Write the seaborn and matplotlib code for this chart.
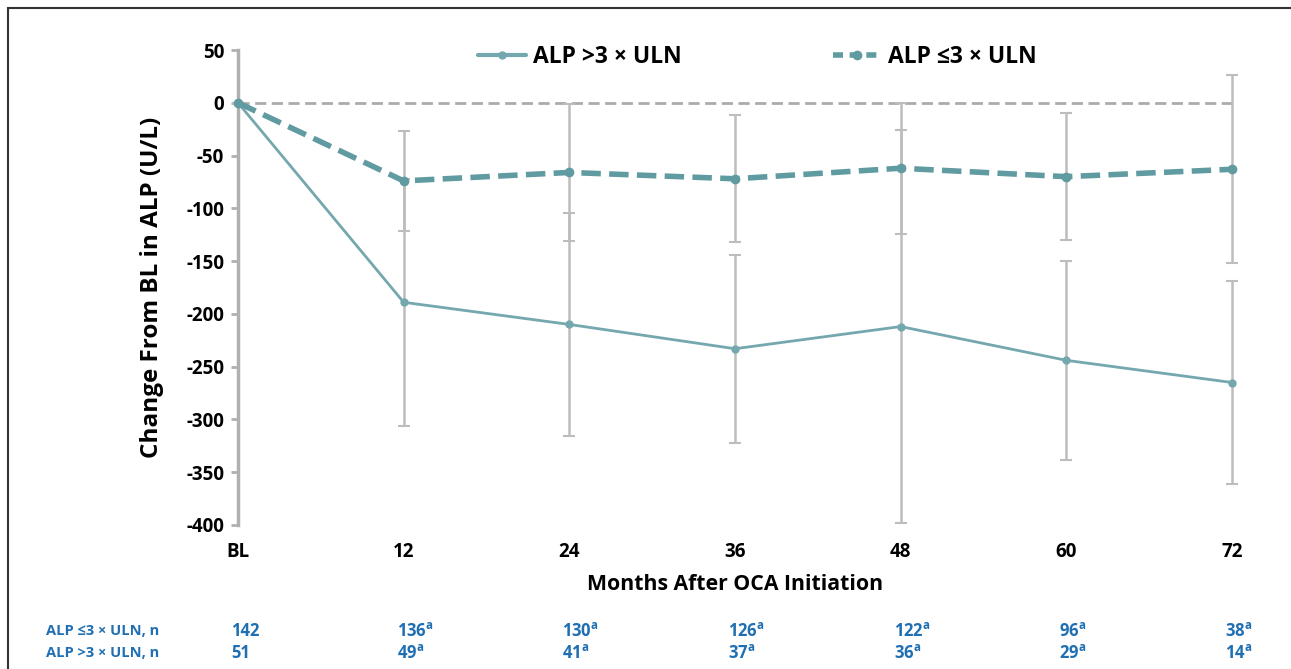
import matplotlib
matplotlib.use("Agg")
import matplotlib.pyplot as plt
import matplotlib.transforms as mtrans
import seaborn as sns
import pandas as pd
from matplotlib.lines import Line2D
from matplotlib.patches import Rectangle

# ---- data ----
months = [0, 12, 24, 36, 48, 60, 72]
month_labels = ["BL", "12", "24", "36", "48", "60", "72"]
high_mean = [0, -189, -210, -233, -212, -244, -265]   # ALP >3 x ULN
high_err = [0, 117, 106, 89, 186, 94, 96]
low_mean = [0, -74, -66, -72, -62, -70, -63]          # ALP <=3 x ULN
low_err = [0, 47, 65, 60, 62, 60, 89]
n_low = ["142", "136", "130", "126", "122", "96", "38"]
n_high = ["51", "49", "41", "37", "36", "29", "14"]
n_sup = ["", "a", "a", "a", "a", "a", "a"]
yticks = list(range(-400, 51, 50))

sns.set_theme(style="white")
plt.rcParams['font.family'] = ['Open Sans', 'DejaVu Sans']
plt.rcParams['font.weight'] = 'bold'
plt.rcParams['text.color'] = 'black'
plt.rcParams['axes.labelcolor'] = 'black'
plt.rcParams['mathtext.fontset'] = 'custom'
plt.rcParams['mathtext.bf'] = 'Open Sans:bold'
plt.rcParams['mathtext.rm'] = 'Open Sans:bold'

df = pd.DataFrame({
    "month": months * 2,
    "value": high_mean + low_mean,
    "group": ["high"] * 7 + ["low"] * 7,
})

fig = plt.figure(figsize=(12.91, 6.69), dpi=100)
ax = fig.add_axes([238/1291, 1-525/669, (1232-238)/1291, (525-50)/669])

line_col = "#74a7ae"
dash_col = "#609ba2"
err_col = "#bdbdbd"

# zero reference line
ax.axhline(0, color="#ababab", lw=2, ls=(0, (4, 2)), zorder=1)

# error bars
for mean, err in ((high_mean, high_err), (low_mean, low_err)):
    eb = ax.errorbar(months, mean, yerr=err, fmt="none", ecolor=err_col,
                     elinewidth=1.8, capsize=4, capthick=1.5, zorder=2)
    for art in eb.lines[1] + eb.lines[2]:
        art.set_clip_on(False)

sns.lineplot(data=df[df.group == "high"], x="month", y="value", ax=ax,
             color=line_col, lw=2, marker="o", markersize=6,
             markeredgewidth=0, zorder=3, legend=False, clip_on=False)
sns.lineplot(data=df[df.group == "low"], x="month", y="value", ax=ax,
             color=dash_col, lw=4, ls=(0, (3.5, 1.5)), marker="o", markersize=7,
             markeredgewidth=0, zorder=3, legend=False, clip_on=False)

ax.set_xlim(0, 72)
ax.set_ylim(-400, 50)
ax.set_xticks(months)
ax.set_xticklabels(month_labels)
ax.set_yticks(yticks)
ax.set_yticklabels([str(v) for v in yticks])
for s in ["top", "right", "bottom"]:
    ax.spines[s].set_visible(False)
ax.spines["left"].set_color("#b0b0b0")
ax.spines["left"].set_linewidth(2.5)
ax.tick_params(axis="y", length=5, width=2, color="#b0b0b0", pad=5,
               labelsize=13.5, labelcolor="black", left=True)
ax.tick_params(axis="x", length=0, pad=12, labelsize=13.5, labelcolor="black")
for lab in ax.get_xticklabels() + ax.get_yticklabels():
    lab.set_fontweight("bold")

ax.set_xlabel("Months After OCA Initiation", fontsize=15.3, fontweight="bold",
              labelpad=9, color="black")
ax.set_ylabel("Change From BL in ALP (U/L)", fontsize=17.5, fontweight="bold",
              labelpad=16, color="black")

# legend
handles = [
    Line2D([], [], color=line_col, lw=3, marker="o", markersize=5),
    Line2D([], [], color=dash_col, lw=4, ls=(0, (1.8, 1.2)), marker="o", markersize=6),
]
leg = fig.legend(handles, ["ALP >3 \u00d7 ULN", "ALP \u22643 \u00d7 ULN"], ncol=2,
                 loc="center", bbox_to_anchor=(757/1291, 1-57/669), frameon=False,
                 prop={"weight": "bold", "size": 16.5}, handlelength=2.1,
                 handletextpad=0.3, columnspacing=6.6)
for t in leg.get_texts():
    t.set_color("black")

# n table
blue = "#1f6fb2"
row_y = [1-631/669, 1-653/669]
fig.text(46/1291, row_y[0], "ALP \u22643 \u00d7 ULN, n", color=blue, fontsize=10.5,
         fontweight="bold", va="center", ha="left")
fig.text(46/1291, row_y[1], "ALP >3 \u00d7 ULN, n", color=blue, fontsize=10.5,
         fontweight="bold", va="center", ha="left")
trans = mtrans.blended_transform_factory(ax.transData, fig.transFigure) + \
    mtrans.ScaledTranslation(-7/100, 0, fig.dpi_scale_trans)
for m, a, b, sup in zip(months, n_low, n_high, n_sup):
    for txt, yy in ((a, row_y[0]), (b, row_y[1])):
        s = txt + (r"$^{\mathbf{%s}}$" % sup if sup else "")
        ax.text(m, yy, s, transform=trans, color=blue, fontsize=12,
                fontweight="bold", va="center", ha="left")

# frame around figure
fig.patches.append(Rectangle((8/1291, -0.1), 1.2, 1-8/669+0.1, transform=fig.transFigure,
                             fill=False, edgecolor="#333333", lw=1.5))

fig.savefig("out.png", dpi=100)
